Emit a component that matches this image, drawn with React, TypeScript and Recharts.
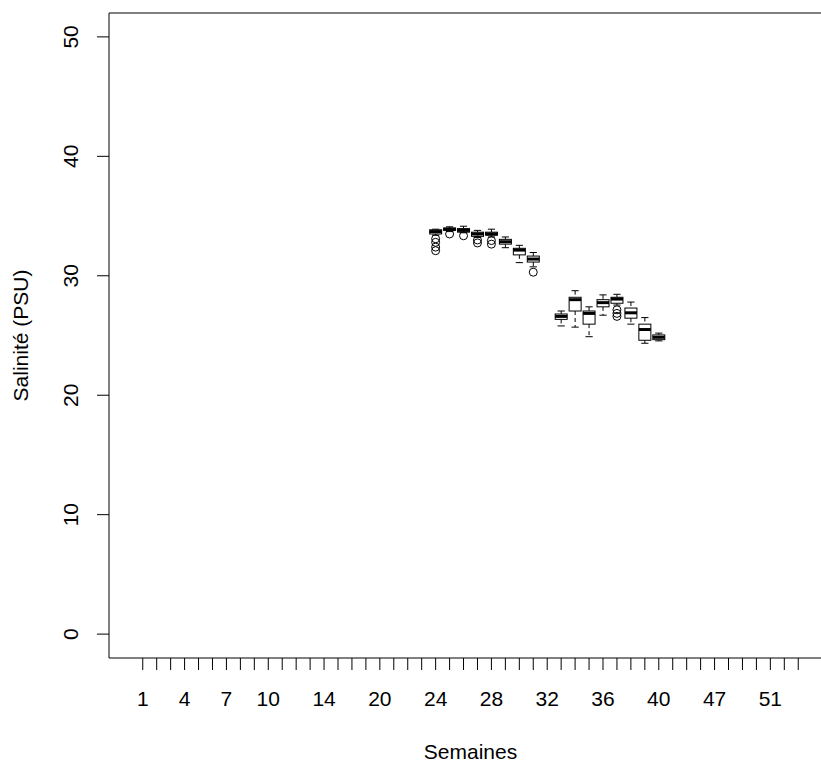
import React from 'react';
import { ComposedChart, XAxis, YAxis, Bar, Scatter, ReferenceArea } from 'recharts';

// levels of the week factor (weeks present somewhere in the survey)
const weekLevels = [
  '1', '2', '3', '4', '5', '6', '7', '8', '9', '10', '11', '12', '13', '14',
  '15', '16', '18',
  '20', '21', '22', '23', '24', '25', '26', '27', '28', '29', '30', '31', '32',
  '33', '34', '35', '36', '37', '38', '39', '40',
  '42', '44', '45',
  '47', '48', '49', '50', '51', '52', '53',
];
// labels that survive the overlap check on the x axis
const shownWeekLabels = ['1', '4', '7', '10', '14', '20', '24', '28', '32', '36', '40', '47', '51'];
const salinityTicks = [0, 10, 20, 30, 40, 50];

// boxplot statistics, one entry per sampled week
const boxWeeks = ['24', '25', '26', '27', '28', '29', '30', '31', '33', '34', '35', '36', '37', '38', '39', '40'];
const whiskerHigh = [33.9, 34.1, 34.15, 33.8, 33.9, 33.25, 32.55, 31.95, 27.05, 28.75, 27.4, 28.4, 28.45, 27.8, 26.5, 25.2];
const upperQuartile = [33.85, 34.0, 33.95, 33.65, 33.65, 33.05, 32.3, 31.65, 26.8, 28.2, 27.05, 28.0, 28.2, 27.3, 25.95, 25.05];
const medianSalinity = [33.7, 33.9, 33.8, 33.5, 33.5, 32.85, 32.15, 31.4, 26.6, 28.0, 26.85, 27.75, 28.05, 26.9, 25.5, 24.85];
const lowerQuartile = [33.5, 33.8, 33.65, 33.3, 33.4, 32.65, 31.75, 31.15, 26.35, 27.05, 25.95, 27.4, 27.7, 26.45, 24.6, 24.65];
const whiskerLow = [33.4, 33.7, 33.6, 33.2, 33.25, 32.35, 31.1, 30.75, 25.8, 25.7, 24.9, 26.7, 27.55, 25.95, 24.35, 24.55];

const outlierWeeks = ['24', '24', '24', '24', '25', '26', '27', '27', '28', '28', '31', '37', '37', '37'];
const outlierValues = [33.1, 32.8, 32.4, 32.1, 33.5, 33.35, 33.0, 32.75, 32.95, 32.65, 30.3, 27.15, 26.85, 26.6];

const levelPos = (w: string) => weekLevels.indexOf(w) + 1;

const boxRows = boxWeeks.map((w, i) => ({
  pos: levelPos(w),
  range: [whiskerLow[i], whiskerHigh[i]],
  q1: lowerQuartile[i],
  median: medianSalinity[i],
  q3: upperQuartile[i],
}));

const outlierRows = outlierWeeks.map((w, i) => ({ pos: levelPos(w), salinity: outlierValues[i] }));

const FONT = 'Liberation Sans, Arial, sans-serif';
const FONT_SIZE = 21;

// the bar spans the whiskers; quartiles and median are placed with the same scale
const BoxShape = (props: any) => {
  const { x, y, width, height, payload } = props;
  const [lo, hi] = payload.range;
  const k = height / (hi - lo);
  const py = (v: number) => y + (hi - v) * k;
  const cx = x + width / 2;
  const staple = width * 0.3;
  const top = py(payload.q3);
  const bottom = py(payload.q1);
  return (
    <g stroke="#000" fill="none">
      <line x1={cx} x2={cx} y1={y} y2={top} strokeDasharray="4 3" />
      <line x1={cx} x2={cx} y1={bottom} y2={y + height} strokeDasharray="4 3" />
      <line x1={cx - staple} x2={cx + staple} y1={y} y2={y} />
      <line x1={cx - staple} x2={cx + staple} y1={y + height} y2={y + height} />
      <rect x={x} y={top} width={width} height={bottom - top} fill="#fff" />
      <line x1={x} x2={x + width} y1={py(payload.median)} y2={py(payload.median)} strokeWidth={3} />
    </g>
  );
};

const OutlierShape = (props: any) => (
  <circle cx={props.cx} cy={props.cy} r={4} fill="none" stroke="#000" strokeWidth={1} />
);

const WeekTick = (props: any) => {
  const { x, y, payload } = props;
  const label = weekLevels[payload.value - 1];
  if (!shownWeekLabels.includes(label)) return null;
  return (
    <text x={x} y={y + 35.5} textAnchor="middle" fontFamily={FONT} fontSize={FONT_SIZE} fill="#000">
      {label}
    </text>
  );
};

const SalinityTick = (props: any) => {
  const { x, y, payload } = props;
  const bx = x - 18.5;
  return (
    <text x={bx} y={y} transform={`rotate(-90 ${bx} ${y})`} textAnchor="middle" fontFamily={FONT} fontSize={FONT_SIZE} fill="#000">
      {payload.value}
    </text>
  );
};

const XTitle = (props: any) => {
  const vb = props.viewBox || { x: 109, y: 658, width: 723, height: 105 };
  return (
    <text x={vb.x + vb.width / 2} y={vb.y + 101} textAnchor="middle" fontFamily={FONT} fontSize={FONT_SIZE} fill="#000">
      Semaines
    </text>
  );
};

const YTitle = (props: any) => {
  const vb = props.viewBox || { x: 0, y: 13, width: 109, height: 645 };
  const tx = vb.x + 28;
  const ty = vb.y + vb.height / 2;
  return (
    <text x={tx} y={ty} transform={`rotate(-90 ${tx} ${ty})`} textAnchor="middle" fontFamily={FONT} fontSize={FONT_SIZE} fill="#000">
      Salinité (PSU)
    </text>
  );
};

export default function App() {
  return (
    <div style={{ position: 'absolute', left: 0, top: 0, width: 821, height: 763, overflow: 'hidden', background: '#fff' }}>
      <ComposedChart width={860} height={763} data={boxRows} margin={{ top: 13, right: 28, left: 0, bottom: 0 }}>
        <XAxis
          dataKey="pos"
          type="number"
          domain={[-1.42, 50.42]}
          ticks={weekLevels.map((_, i) => i + 1)}
          interval={0}
          allowDataOverflow
          height={105}
          tickSize={12}
          tickMargin={0}
          stroke="#000"
          axisLine={false}
          tick={<WeekTick />}
          label={<XTitle />}
        />
        <YAxis
          type="number"
          domain={[-2, 52]}
          ticks={salinityTicks}
          interval={0}
          allowDataOverflow
          width={109}
          tickSize={12}
          tickMargin={0}
          stroke="#000"
          axisLine={false}
          tick={<SalinityTick />}
          label={<YTitle />}
        />
        <ReferenceArea x1={-1.42} x2={50.42} y1={-2} y2={52} fill="none" stroke="#000" ifOverflow="visible" />
        <Bar dataKey="range" barSize={12} shape={<BoxShape />} isAnimationActive={false} />
        <Scatter data={outlierRows} dataKey="salinity" shape={<OutlierShape />} isAnimationActive={false} />
      </ComposedChart>
    </div>
  );
}
